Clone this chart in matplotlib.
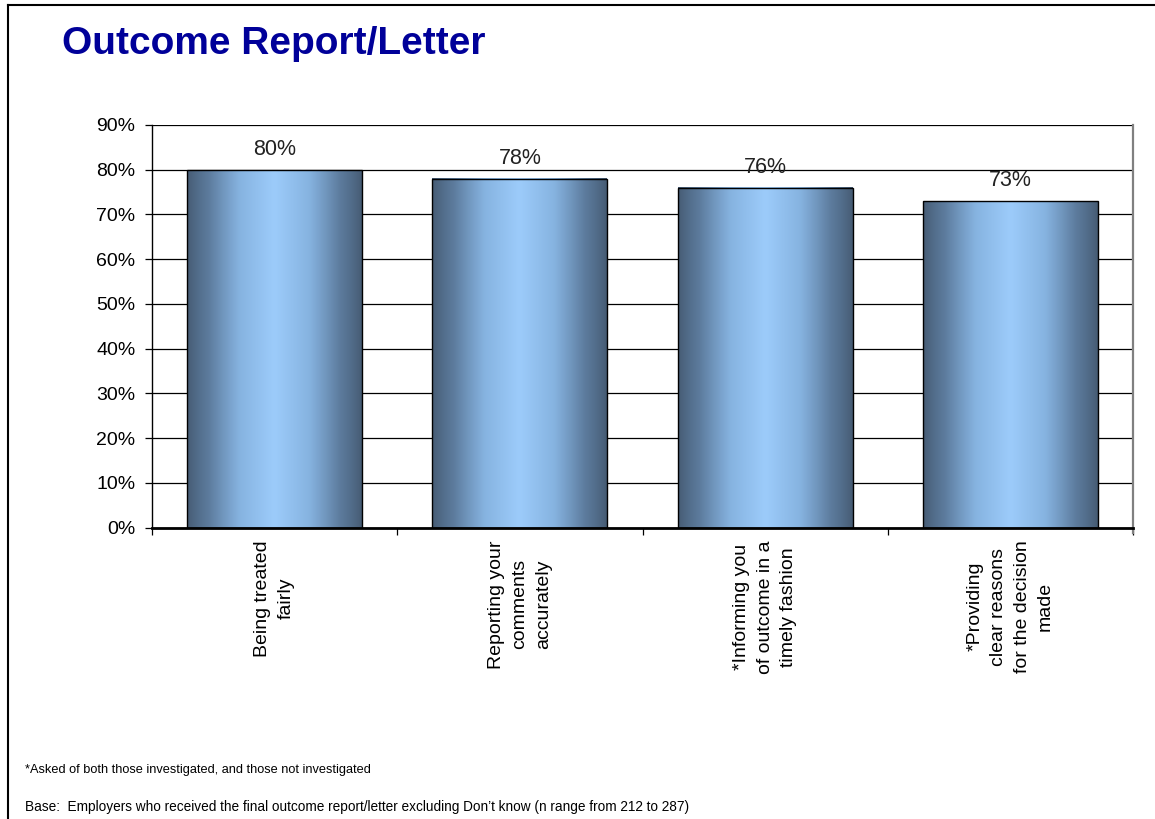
import numpy as np
import matplotlib
matplotlib.use("Agg")
import matplotlib.pyplot as plt
from matplotlib.colors import LinearSegmentedColormap
from matplotlib.lines import Line2D

plt.rcParams['font.family'] = ['Liberation Sans', 'DejaVu Sans']

categories = [
    "Being treated\nfairly",
    "Reporting your\ncomments\naccurately",
    "*Informing you\nof outcome in a\ntimely fashion",
    "*Providing\nclear reasons\nfor the decision\nmade",
]
values = [80, 78, 76, 73]
yticks = [0, 10, 20, 30, 40, 50, 60, 70, 80, 90]

title = "Outcome Report/Letter"
note1 = "*Asked of both those investigated, and those not investigated"
note2 = ("Base:  Employers who received the final outcome report/letter "
         "excluding Don\u2019t know (n range from 212 to 287)")

fig = plt.figure(figsize=(11.55, 8.19), dpi=100)
fig.patch.set_facecolor('white')
ax = fig.add_axes([0.1316, 0.3557, 0.8494, 0.4917])

# bar shading: dark edges, light blue middle
shade = LinearSegmentedColormap.from_list(
    'barshade', ['#455a72', '#5d7c9e', '#86b3e0', '#9ccbfa'])
t = np.linspace(0, 1, 256)
grad = (1 - np.abs(2 * t - 1)) ** 0.8
grad = grad.reshape(1, -1)

x = np.arange(len(categories))
width = 0.713
bars = ax.bar(x, values, width=width, color='none', edgecolor='black',
              linewidth=1.0, zorder=3)
for b in bars:
    x0 = b.get_x()
    ax.imshow(grad, cmap=shade, aspect='auto', interpolation='bicubic',
              extent=(x0, x0 + b.get_width(), 0, b.get_height()), zorder=2)

for xi, v in zip(x, values):
    ax.annotate(f"{v}%", (xi, v), xytext=(0, 7), textcoords='offset points',
                ha='center', va='bottom', fontsize=15.5, color='#222222',
                zorder=4)

ax.set_xlim(-0.5, len(categories) - 0.5)
ax.set_ylim(0, 90)
ax.set_yticks(yticks)
ax.set_yticklabels([f"{v}%" for v in yticks], fontsize=14)
ax.yaxis.grid(True, color='black', linewidth=0.9, zorder=1)
ax.set_axisbelow(True)
ax.tick_params(axis='y', direction='out', length=5, width=0.9, pad=7)

ax.set_xticks(x)
ax.set_xticklabels(categories, rotation=90, fontsize=14, va='top',
                   ha='center', multialignment='center', linespacing=1.5)
ax.set_xticks(np.arange(len(categories) + 1) - 0.5, minor=True)
ax.tick_params(axis='x', which='major', length=0, pad=9)
ax.tick_params(axis='x', which='minor', direction='out', length=5, width=0.9)

ax.spines['top'].set_visible(False)
ax.spines['left'].set_linewidth(1.0)
ax.spines['bottom'].set_linewidth(2.0)
ax.spines['bottom'].set_zorder(5)
ax.spines['right'].set_color('#808080')
ax.spines['right'].set_linewidth(1.6)
ax.spines['right'].set_bounds(-1.3, 90)

fig.text(62 / 1155, 1 - 44 / 819, title, fontsize=28, fontweight='bold',
         color='#000099', ha='left', va='center')
fig.text(25 / 1155, 1 - 770 / 819, note1, fontsize=9.2, ha='left',
         va='center')
fig.text(25 / 1155, 1 - 807 / 819, note2, fontsize=9.8, ha='left',
         va='center')

# slide frame along the left and top edges
fig.add_artist(Line2D([8 / 1155, 8 / 1155], [0, 1 - 5 / 819],
                      transform=fig.transFigure, color='black', lw=1.5))
fig.add_artist(Line2D([8 / 1155, 1], [1 - 5 / 819, 1 - 5 / 819],
                      transform=fig.transFigure, color='black', lw=1.5))

fig.savefig('out.png', dpi=100)
